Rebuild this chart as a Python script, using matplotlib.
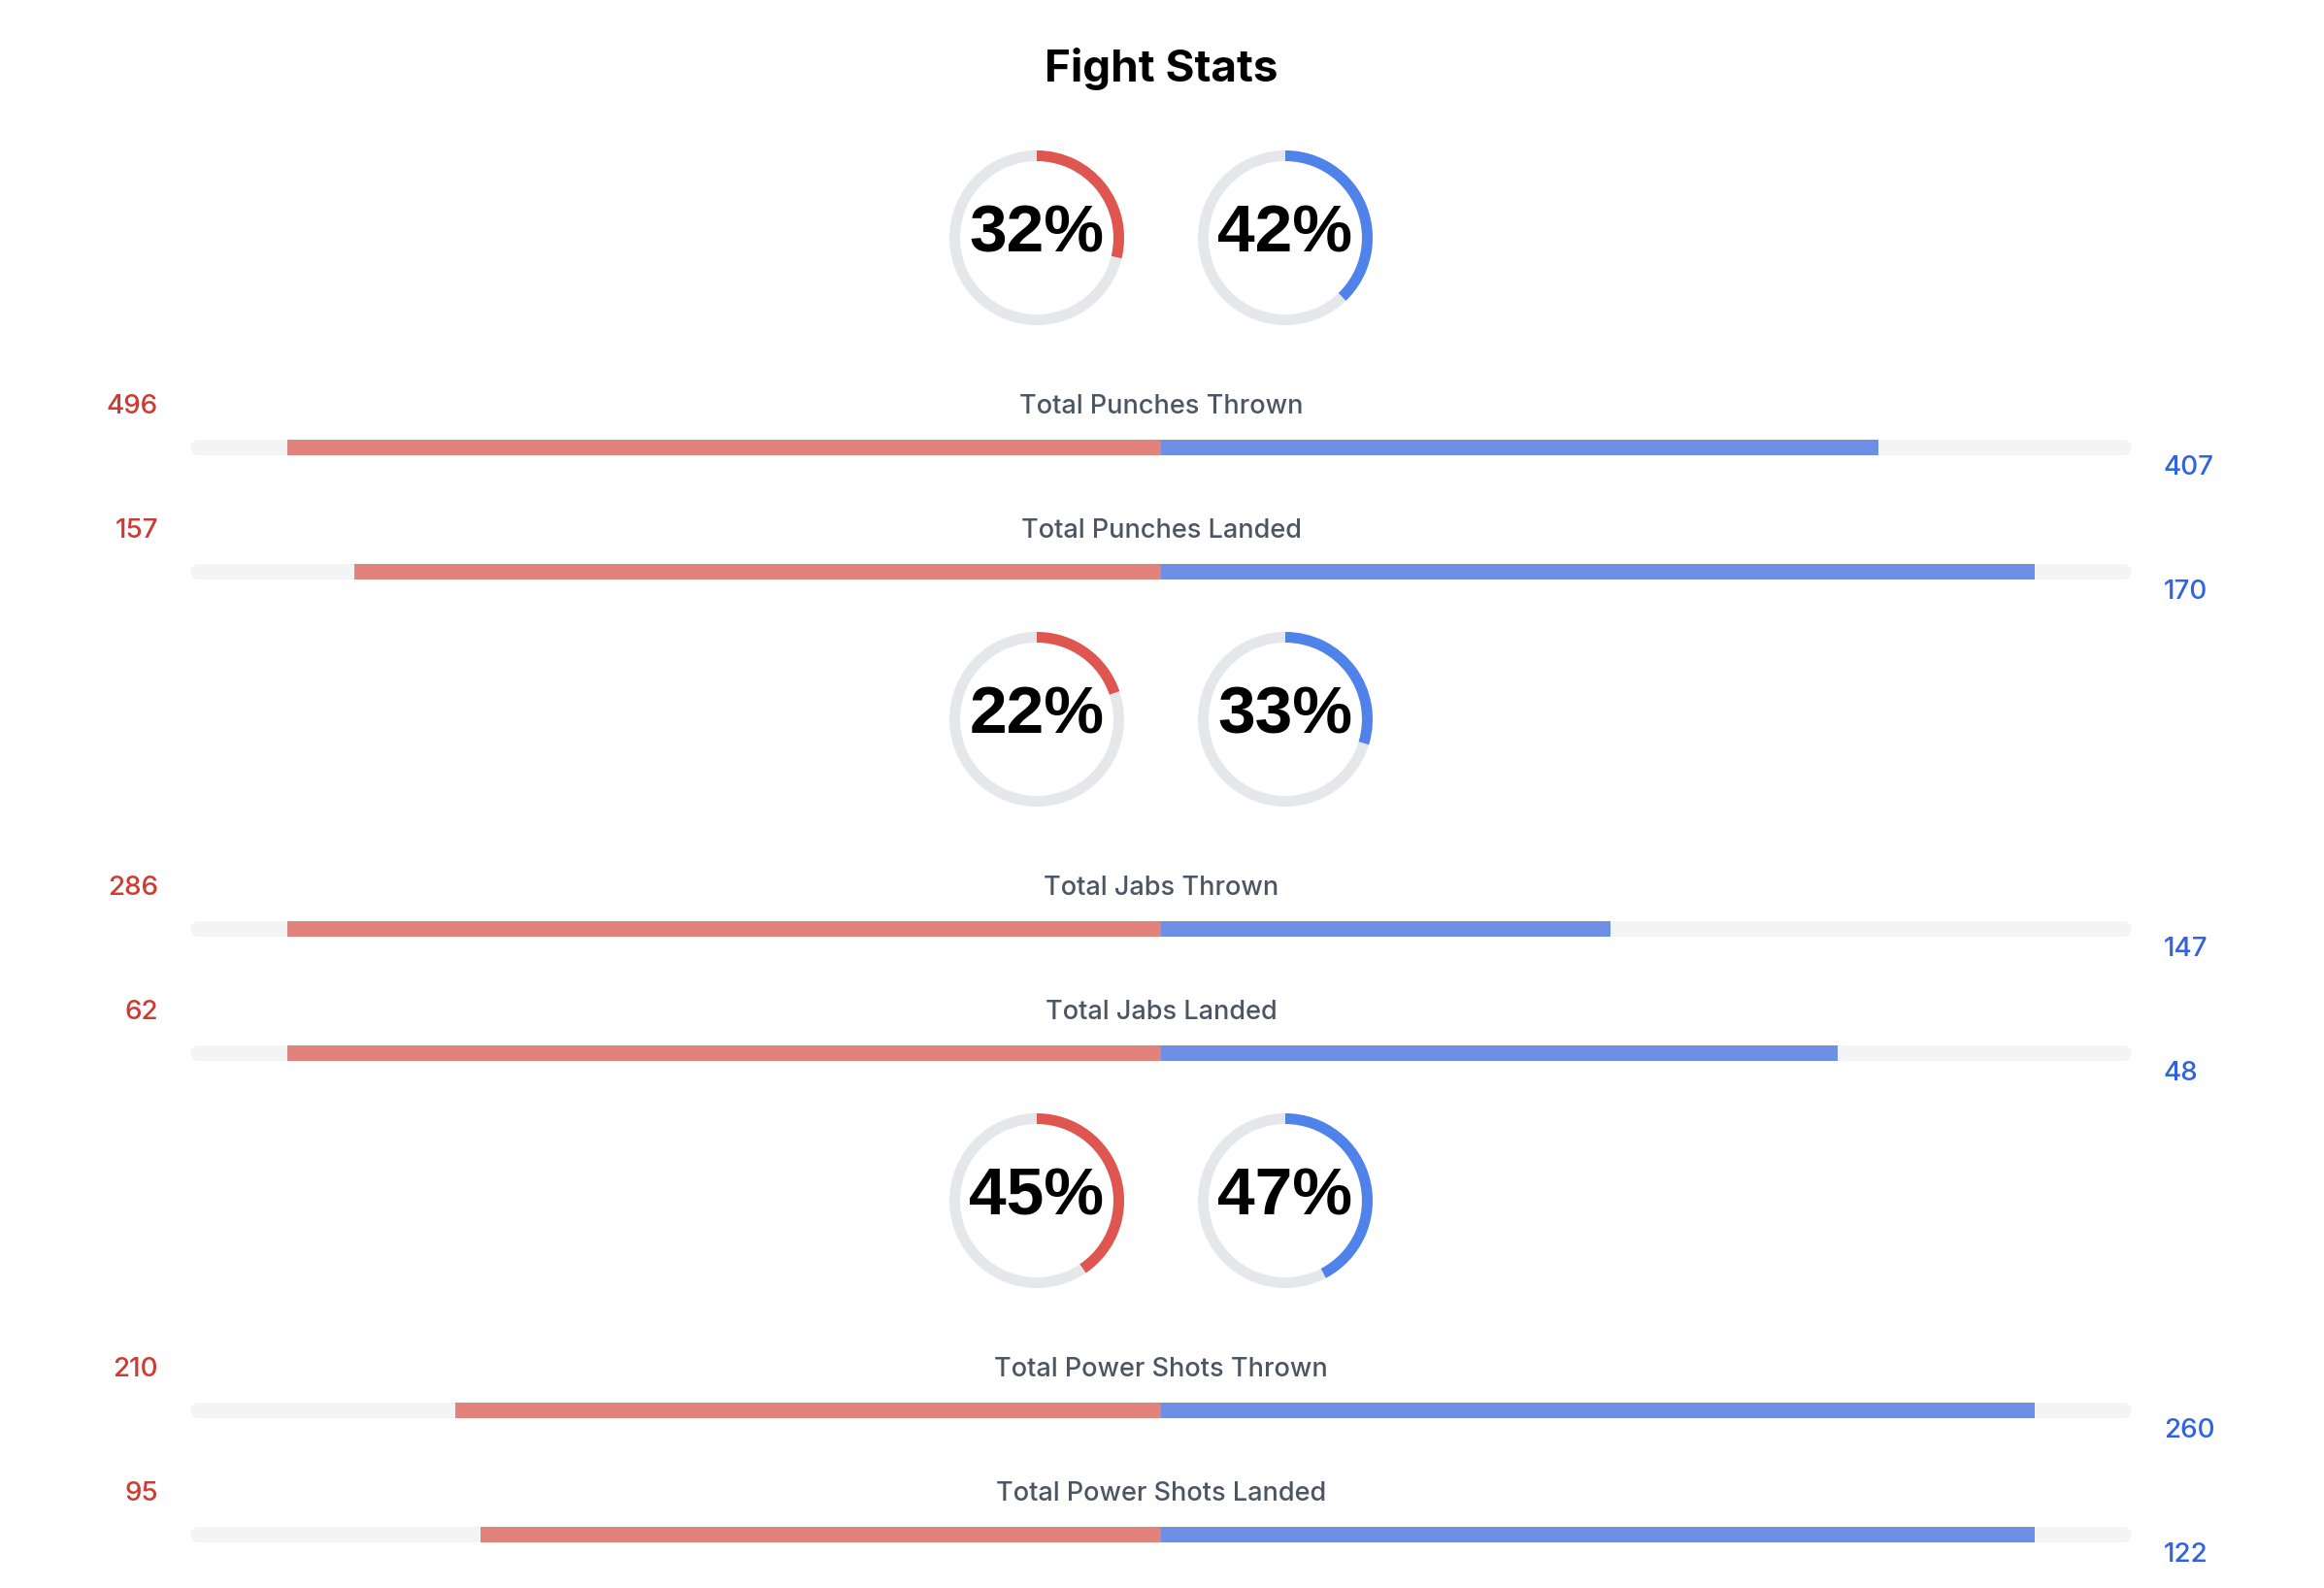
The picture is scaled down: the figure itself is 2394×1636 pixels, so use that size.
import matplotlib.pyplot as plt
from matplotlib.patches import Wedge

# Fight stats data
stat_names = ["Total Punches Thrown", "Total Punches Landed",
              "Total Jabs Thrown", "Total Jabs Landed",
              "Total Power Shots Thrown", "Total Power Shots Landed"]
red_values = [496, 157, 286, 62, 210, 95]
blue_values = [407, 170, 147, 48, 260, 122]
red_pct = [32, 22, 45]
blue_pct = [42, 33, 47]

# colours
RED_TXT = "#cf3a32"
BLUE_TXT = "#2f62e6"
RED_BAR = "#e2827c"
BLUE_BAR = "#6f8fe6"
RED_ARC = "#df5550"
BLUE_ARC = "#4f82ea"
TRACK = "#f3f4f6"
RING = "#e5e7eb"
LABEL = "#4b5563"

W, H = 2394, 1636
fig = plt.figure(figsize=(W / 100, H / 100), dpi=100)
ax = fig.add_axes([0, 0, 1, 1])
ax.set_xlim(0, W)
ax.set_ylim(H, 0)
ax.axis("off")

cx = 1196          # centre line
half = 1000        # half width of track
bar_h = 16
donut_r = 90
ring_w = 11
group_step = 496

ax.text(cx, 84, "Fight Stats", ha="center", va="baseline",
        fontsize=33, fontweight="bold", family="Inter", color="black")

for g in range(3):
    dy = 245 + g * group_step
    # donuts
    for pct, col, x in [(red_pct[g], RED_ARC, cx - 128), (blue_pct[g], BLUE_ARC, cx + 128)]:
        ax.add_patch(Wedge((x, dy), donut_r, 0, 360, width=ring_w, color=RING, lw=0))
        sweep = pct / 100 * 0.9 * 360
        ax.add_patch(Wedge((x, dy), donut_r, -90, -90 + sweep, width=ring_w, color=col, lw=0))
        ax.text(x, dy + 14, f"{pct}%", ha="center", va="baseline",
                fontsize=50, fontweight="bold", family="Liberation Sans", color="black")

    for k in range(2):
        i = g * 2 + k
        y = 461 + g * group_step + k * 128
        r, b = red_values[i], blue_values[i]
        m = max(r, b)
        # background track with round ends
        ax.plot([cx - half + bar_h / 2, cx + half - bar_h / 2], [y, y], color=TRACK,
                lw=bar_h * 0.72, solid_capstyle="round", zorder=1)
        ax.barh(y, -0.9 * half * r / m, left=cx, height=bar_h, color=RED_BAR, zorder=2)
        ax.barh(y, 0.9 * half * b / m, left=cx, height=bar_h, color=BLUE_BAR, zorder=2)

        ax.text(cx, y - 35, stat_names[i], ha="center", va="baseline",
                fontsize=19.5, fontweight="medium", family="Inter", color=LABEL)
        ax.text(163, y - 35, str(r), ha="right", va="baseline",
                fontsize=20, fontweight="medium", family="Inter", color=RED_TXT)
        ax.text(2229, y + 28, str(b), ha="left", va="baseline",
                fontsize=20, fontweight="medium", family="Inter", color=BLUE_TXT)

fig.savefig("out.png", dpi=100, facecolor="white")
